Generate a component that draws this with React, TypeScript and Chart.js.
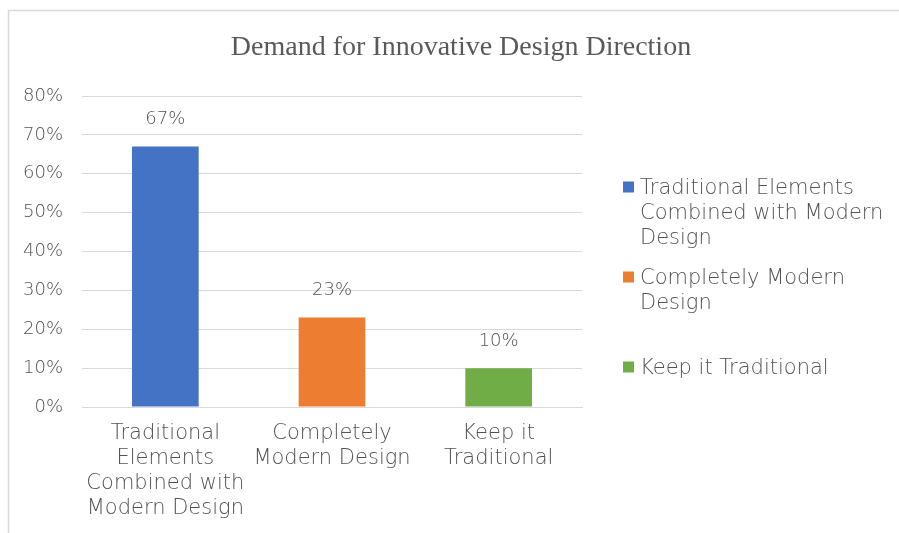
import React, { useEffect, useRef } from "react";
import { Chart, registerables } from "chart.js";

Chart.register(...registerables);

const categories: string[][] = [
  ["Traditional", "Elements", "Combined with", "Modern Design"],
  ["Completely", "Modern Design"],
  ["Keep it", "Traditional"],
];
const legendLabels: string[][] = [
  ["Traditional Elements", "Combined with Modern", "Design"],
  ["Completely Modern", "Design"],
  ["Keep it Traditional"],
];
const values: number[] = [67, 23, 10];
const colors: string[] = ["#4472C4", "#ED7D31", "#70AD47"];
const yTicks: number[] = [0, 10, 20, 30, 40, 50, 60, 70, 80];
const titleText = "Demand for Innovative Design Direction";

const SANS = "'DejaVu Sans', 'Noto Sans', sans-serif";
const GREY = "#525252";

const decorPlugin = {
  id: "decor",
  beforeDraw(chart: any) {
    const ctx = chart.ctx;
    ctx.save();
    ctx.fillStyle = "#ffffff";
    ctx.fillRect(0, 0, chart.width, chart.height);
    ctx.strokeStyle = "#d9d9d9";
    ctx.lineWidth = 1.5;
    ctx.beginPath();
    ctx.moveTo(8.5, chart.height + 5);
    ctx.lineTo(8.5, 10.5);
    ctx.lineTo(chart.width + 5, 10.5);
    ctx.stroke();
    ctx.restore();
  },
  afterDraw(chart: any) {
    const ctx = chart.ctx;
    ctx.save();
    // title
    ctx.fillStyle = "#595959";
    ctx.font = "28px 'Liberation Serif', 'Times New Roman', serif";
    ctx.textAlign = "center";
    ctx.textBaseline = "middle";
    ctx.fillText(titleText, 461, 48);
    // data labels
    ctx.fillStyle = GREY;
    const meta = chart.getDatasetMeta(0);
    ctx.font = `200 18px ${SANS}`;
    meta.data.forEach((bar: any, i: number) => {
      ctx.fillText(values[i] + "%", bar.x, bar.y - 27);
    });
    // legend
    ctx.textAlign = "left";
    ctx.font = `200 21px ${SANS}`;
    legendLabels.forEach((lines, i) => {
      const y0 = 189 + i * 90;
      ctx.fillStyle = colors[i];
      ctx.fillRect(623, y0 - 7.5, 11, 11);
      ctx.fillStyle = GREY;
      lines.forEach((ln, j) => ctx.fillText(ln, 640, y0 + j * 25));
    });
    ctx.restore();
  },
};

export default function App() {
  const ref = useRef<HTMLCanvasElement>(null);
  useEffect(() => {
    if (!ref.current) return;
    const chart = new Chart(ref.current, {
      type: "bar",
      data: {
        labels: categories,
        datasets: [
          {
            data: values,
            backgroundColor: colors,
            categoryPercentage: 1,
            barPercentage: 0.4,
          },
        ],
      },
      options: {
        animation: false,
        responsive: false,
        layout: { padding: { left: 0, right: 317, top: 96, bottom: 0 } },
        plugins: {
          legend: { display: false },
          title: { display: false },
          tooltip: { enabled: false },
        },
        scales: {
          x: {
            grid: { display: false, drawTicks: false },
            border: { display: true, color: "#d9d9d9", width: 1 },
            ticks: {
              color: GREY,
              font: { family: SANS, size: 21, weight: 200 as any, lineHeight: 25 / 21 },
              padding: 14,
              maxRotation: 0,
              autoSkip: false,
            },
            afterFit(s: any) {
              s.height = 126;
            },
          },
          y: {
            min: 0,
            max: 80,
            afterBuildTicks(s: any) {
              s.ticks = yTicks.map((v) => ({ value: v }));
            },
            grid: { color: "#d9d9d9", lineWidth: 1, drawTicks: false },
            border: { display: false },
            ticks: {
              color: GREY,
              font: { family: SANS, size: 18, weight: 200 as any },
              padding: 19,
              callback: (v: any) => v + "%",
            },
            afterFit(s: any) {
              s.width = 82;
            },
          },
        },
      },
      plugins: [decorPlugin],
    });
    return () => chart.destroy();
  }, []);
  return (
    <div style={{ position: "fixed", left: 0, top: 0, width: 899, height: 533, background: "#fff" }}>
      <canvas ref={ref} width={899} height={533} style={{ display: "block" }} />
    </div>
  );
}
